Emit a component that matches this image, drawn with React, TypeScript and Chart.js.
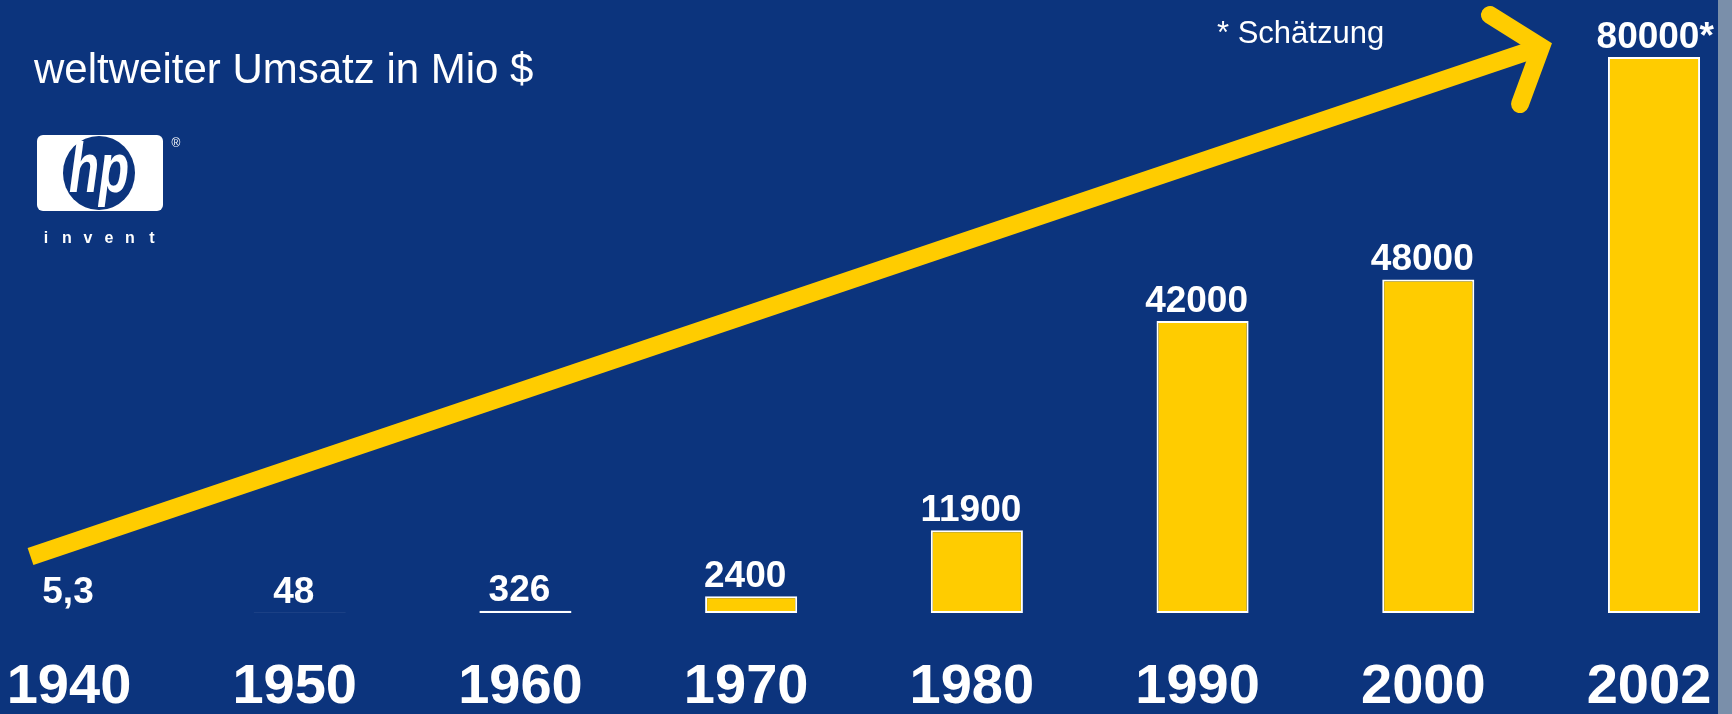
import React, { useEffect, useRef } from "react";
import { Chart, registerables } from "chart.js";

Chart.register(...registerables);

const categories = ["1940", "1950", "1960", "1970", "1980", "1990", "2000", "2002"];
const revenue = [5.3, 48, 326, 2400, 11900, 42000, 48000, 80000];
const valueLabels = ["5,3", "48", "326", "2400", "11900", "42000", "48000", "80000"];
const labelSuffixes = ["", "", "", "", "", "", "", "*"];
const yMax = 80000;
const titleText = "weltweiter Umsatz in Mio $";
const noteText = "* Schätzung";
const logoWord = ["i", "n", "v", "e", "n", "t"];

const NAVY = "#0C347D";
const YELLOW = "#FFCC00";
const STRIP = "#7A8FAA";
const FONT = '"Liberation Sans", Arial, sans-serif';

const decorPlugin = {
  id: "decor",
  beforeDraw(chart: any) {
    const { ctx, width, height } = chart;
    ctx.save();
    ctx.fillStyle = NAVY;
    ctx.fillRect(0, 0, width, height);
    ctx.fillStyle = STRIP;
    ctx.fillRect(1718, 0, width - 1718, height);
    ctx.restore();
  },
  afterDatasetsDraw(chart: any) {
    const { ctx } = chart;
    const meta = chart.getDatasetMeta(0);
    ctx.save();
    ctx.fillStyle = "#FFFFFF";
    ctx.font = `bold 37px ${FONT}`;
    ctx.textBaseline = "alphabetic";
    meta.data.forEach((el: any, i: number) => {
      const main = valueLabels[i];
      const suffix = labelSuffixes[i];
      const cx = el.x - 6;
      const y = el.y - 9.5;
      ctx.textAlign = "center";
      ctx.fillText(main, cx, y);
      if (suffix) {
        const w = ctx.measureText(main).width;
        ctx.textAlign = "left";
        ctx.fillText(suffix, cx + w / 2, y);
      }
    });
    ctx.restore();
  },
  afterDraw(chart: any) {
    const { ctx } = chart;
    ctx.save();
    // title
    ctx.fillStyle = "#FFFFFF";
    ctx.font = `42px ${FONT}`;
    ctx.textAlign = "left";
    ctx.textBaseline = "alphabetic";
    ctx.fillText(titleText, 34, 83);
    // note
    ctx.font = `31px ${FONT}`;
    ctx.fillText(noteText, 1217, 43);

    // logo
    ctx.fillStyle = "#FFFFFF";
    ctx.beginPath();
    (ctx as any).roundRect(37, 135, 126, 76, 6);
    ctx.fill();
    ctx.fillStyle = NAVY;
    ctx.beginPath();
    ctx.ellipse(99, 173, 36, 37, 0, 0, Math.PI * 2);
    ctx.fill();
    ctx.save();
    ctx.translate(99, 192);
    ctx.scale(0.85, 1.2);
    ctx.fillStyle = "#FFFFFF";
    ctx.font = `italic bold 58px ${FONT}`;
    ctx.textAlign = "center";
    ctx.fillText("hp", 0, 0);
    ctx.restore();
    ctx.fillStyle = "#FFFFFF";
    ctx.font = `12px ${FONT}`;
    ctx.textAlign = "center";
    ctx.fillText("®", 176, 147);
    ctx.font = `bold 16px ${FONT}`;
    const xs = [46, 67, 88, 109, 130, 152];
    logoWord.forEach((ch, i) => ctx.fillText(ch, xs[i], 243));

    // arrow
    ctx.strokeStyle = YELLOW;
    ctx.lineWidth = 18;
    ctx.lineCap = "butt";
    ctx.beginPath();
    ctx.moveTo(30.5, 556.5);
    ctx.lineTo(1541, 47);
    ctx.stroke();
    ctx.lineCap = "round";
    ctx.lineJoin = "miter";
    ctx.beginPath();
    ctx.moveTo(1490, 15);
    ctx.lineTo(1541, 47);
    ctx.lineTo(1520, 104);
    ctx.stroke();
    ctx.restore();
  },
};

export default function App() {
  const canvasRef = useRef<HTMLCanvasElement | null>(null);

  useEffect(() => {
    const canvas = canvasRef.current;
    if (!canvas) return;
    const chart = new Chart(canvas, {
      type: "bar",
      data: {
        labels: categories,
        datasets: [
          {
            data: revenue,
            backgroundColor: YELLOW,
            borderColor: "#FFFFFF",
            borderWidth: (c: any) => {
              const el = c.element;
              if (el && typeof el.base === "number" && Math.abs(el.base - el.y) < 1) return 0;
              return 2;
            },
            borderSkipped: false,
            categoryPercentage: 1,
            barPercentage: 0.408,
            clip: false as any,
          },
        ],
      },
      options: {
        responsive: false,
        animation: false,
        devicePixelRatio: 1,
        layout: { padding: { left: 74, right: 78, top: 57, bottom: 0 } },
        plugins: {
          legend: { display: false },
          tooltip: { enabled: false },
        },
        scales: {
          x: {
            offset: false,
            grid: { display: false, drawTicks: false },
            border: { display: false },
            ticks: {
              color: "#FFFFFF",
              font: { family: FONT, weight: "bold", size: 56, lineHeight: 1 },
              padding: 47,
              labelOffset: -5,
              maxRotation: 0,
              autoSkip: false,
            },
            afterFit: (scale: any) => {
              scale.height = 101;
              scale.paddingLeft = 0;
              scale.paddingRight = 0;
            },
          },
          y: {
            display: false,
            min: 0,
            max: yMax,
          },
        },
      },
      plugins: [decorPlugin],
    });
    return () => chart.destroy();
  }, []);

  return (
    <div
      style={{
        position: "absolute",
        left: 0,
        top: 0,
        width: 1732,
        height: 714,
        background: NAVY,
        overflow: "hidden",
      }}
    >
      <canvas
        ref={canvasRef}
        width={1732}
        height={714}
        style={{ width: 1732, height: 714, display: "block" }}
      />
    </div>
  );
}
